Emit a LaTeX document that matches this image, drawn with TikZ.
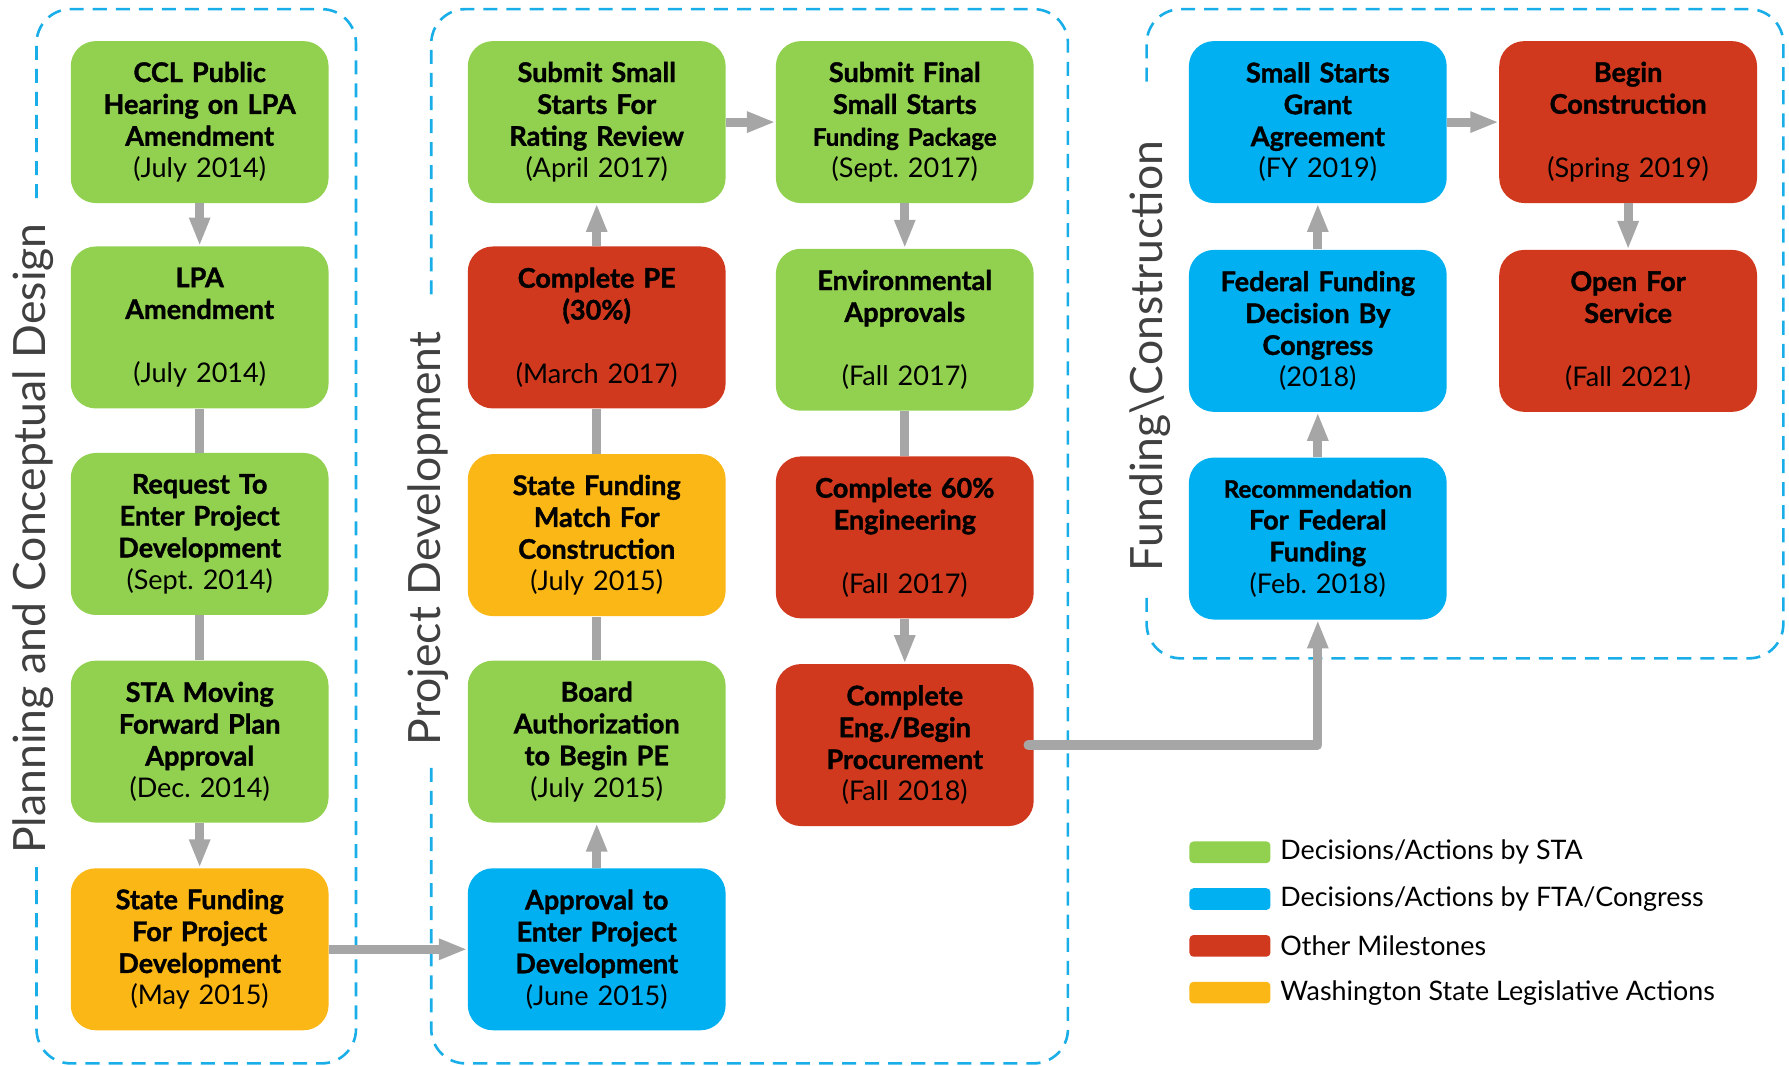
\documentclass[tikz,border=0pt]{standalone}
\usepackage{fontspec}
\setmainfont{Lato}[BoldFeatures={FakeBold=1.3}]
\frenchspacing
\usetikzlibrary{arrows.meta,calc}
\definecolor{stagreen}{HTML}{92D050}
\definecolor{ftablue}{HTML}{00B0F0}
\definecolor{milered}{HTML}{D0391E}
\definecolor{stateorange}{HTML}{FBB716}
\definecolor{flowgray}{HTML}{A6A6A6}
\definecolor{framecyan}{HTML}{1AAEE8}
\definecolor{phasegray}{HTML}{404040}
\newcommand{\when}[1]{{\mdseries(#1)}}

\begin{document}
\begin{tikzpicture}[x=0.02cm, y=-0.02cm,
    box/.style={rounded corners=0.44cm, minimum width=4.52cm, minimum height=2.84cm, inner sep=0pt, text width=4.4cm, align=center, font=\fontsize{13.5}{15.9}\selectfont\bfseries},
    link/.style={draw=flowgray, line width=0.16cm},
    arr/.style={link, -{Triangle[length=0.5cm,width=0.34cm]}},
    frame/.style={draw=framecyan, line width=1.3pt, dash pattern=on 7pt off 4.5pt, rounded corners=0.6cm},
    phase/.style={rotate=90, text=phasegray, font=\fontsize{22.2}{26}\selectfont},
    swatch/.style={rounded corners=2pt, minimum width=1.42cm, minimum height=0.38cm, inner sep=0pt},
    keytext/.style={anchor=west, inner sep=0pt, font=\fontsize{13.4}{16}\selectfont}]
			\useasboundingbox (0,0) rectangle (1568,934);
			\draw[frame] (32,760) |- (312,932) |- (32,8) -- (32,175);
			\draw[frame] (378,673) |- (936,932) |- (378,8) -- (378,263);
			\draw[frame] (1005,524) |- (1563,577) |- (1005,8) -- (1005,73);
			\node[phase] at (29,472) (Phase0) {Planning and Conceptual Design};
			\node[phase] at (375,472) (Phase1) {Project Development};
			\node[phase] at (1008,312) (Phase2) {Funding\textbackslash Construction};
			\node[box, fill=stagreen] at (175,107) (Plan0) {CCL Public\\Hearing on LPA\\Amendment\\\when{July 2014}};
			\node[box, fill=stagreen] at (175,287) (Plan1) {LPA\\Amendment\\~\\\when{July 2014}};
			\node[box, fill=stagreen] at (175,468) (Plan2) {Request To\\Enter Project\\Development\\\when{Sept. 2014}};
			\node[box, fill=stagreen] at (175,650) (Plan3) {STA Moving\\Forward Plan\\Approval\\\when{Dec. 2014}};
			\node[box, fill=stateorange] at (175,832) (Plan4) {State Funding\\For Project\\Development\\\when{May 2015}};
			\node[box, fill=ftablue] at (523,832) (Dev0) {Approval to\\Enter Project\\Development\\\when{June 2015}};
			\node[box, fill=stagreen] at (523,650) (Dev1) {Board\\Authorization\\to Begin PE\\\when{July 2015}};
			\node[box, fill=stateorange] at (523,469) (Dev2) {State Funding\\Match For\\Construction\\\when{July 2015}};
			\node[box, fill=milered] at (523,287) (Dev3) {Complete PE\\(30\%)\\~\\\when{March 2017}};
			\node[box, fill=stagreen] at (523,107) (Dev4) {Submit Small\\Starts For\\Rating Review\\\when{April 2017}};
			\node[box, fill=stagreen] at (793,107) (Dev5) {Submit Final\\Small Starts\\{\fontsize{12}{15.9}\selectfont Funding Package}\\\when{Sept. 2017}};
			\node[box, fill=stagreen] at (793,289) (Dev6) {Environmental\\Approvals\\~\\\when{Fall 2017}};
			\node[box, fill=milered] at (793,471) (Dev7) {Complete 60\%\\Engineering\\~\\\when{Fall 2017}};
			\node[box, fill=milered] at (793,653) (Dev8) {Complete\\Eng./Begin\\Procurement\\\when{Fall 2018}};
			\node[box, fill=ftablue] at (1155,472) (Fund0) {{\fontsize{12}{15.9}\selectfont Recommendation}\\For Federal\\Funding\\\when{Feb. 2018}};
			\node[box, fill=ftablue] at (1155,290) (Fund1) {Federal Funding\\Decision By\\Congress\\\when{2018}};
			\node[box, fill=ftablue] at (1155,107) (Fund2) {Small Starts\\Grant\\Agreement\\\when{FY 2019}};
			\node[box, fill=milered] at (1427,107) (Fund3) {Begin\\Construction\\~\\\when{Spring 2019}};
			\node[box, fill=milered] at (1427,290) (Fund4) {Open For\\Service\\~\\\when{Fall 2021}};
			\draw[arr] (Plan0) -- (Plan1);
			\draw[link] (Plan1) -- (Plan2);
			\draw[link] (Plan2) -- (Plan3);
			\draw[arr] (Plan3) -- (Plan4);
			\draw[arr] (Plan4) -- (Dev0);
			\draw[arr] (Dev0) -- (Dev1);
			\draw[link] (Dev1) -- (Dev2);
			\draw[link] (Dev2) -- (Dev3);
			\draw[arr] (Dev3) -- (Dev4);
			\draw[arr] (Dev4) -- (Dev5);
			\draw[arr] (Dev5) -- (Dev6);
			\draw[link] (Dev6) -- (Dev7);
			\draw[arr] (Dev7) -- (Dev8);
			\draw[arr, line join=round, line cap=round] ([xshift=-3pt]Dev8.east) -| (Fund0);
			\draw[arr] (Fund0) -- (Fund1);
			\draw[arr] (Fund1) -- (Fund2);
			\draw[arr] (Fund2) -- (Fund3);
			\draw[arr] (Fund3) -- (Fund4);
			\node[swatch, fill=stagreen] at (1078,747) (Key0) {};
			\node[swatch, fill=ftablue] at (1078,788) (Key1) {};
			\node[swatch, fill=milered] at (1078,829) (Key2) {};
			\node[swatch, fill=stateorange] at (1078,870) (Key3) {};
			\node[keytext] at ($(Key0.east)+(8,0)$) (KeyText0) {Decisions/Actions by STA};
			\node[keytext] at ($(Key1.east)+(8,0)$) (KeyText1) {Decisions/Actions by FTA/Congress};
			\node[keytext] at ($(Key2.east)+(8,0)$) (KeyText2) {Other Milestones};
			\node[keytext] at ($(Key3.east)+(8,0)$) (KeyText3) {Washington State Legislative Actions};
        \end{tikzpicture}
\end{document}
